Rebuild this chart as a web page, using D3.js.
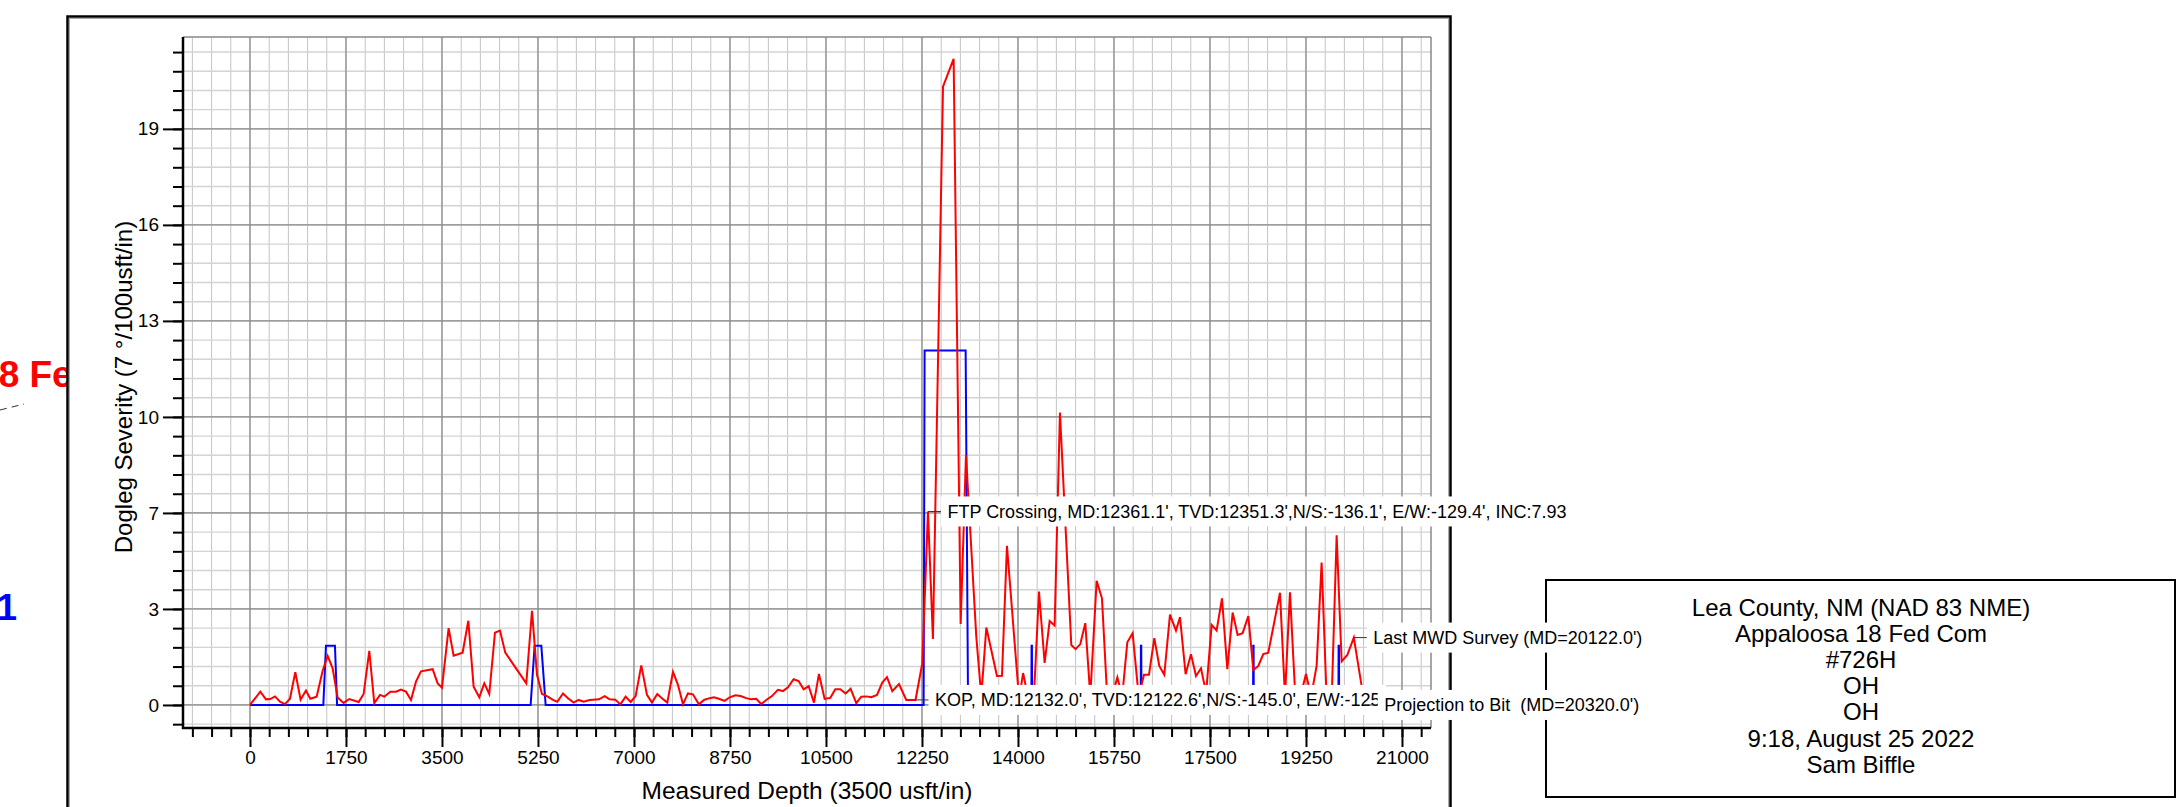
<!DOCTYPE html>
<html><head><meta charset="utf-8">
<script src="https://cdn.jsdelivr.net/npm/d3@7"></script>
<style>
body{margin:0;background:#fff;}
svg{display:block;font-family:"Liberation Sans",Arial,Helvetica,sans-serif;}
</style>
</head><body>
<svg id="chart" width="2178" height="807"></svg>
<script>
// ---- data ----
const surveyMD = [0,188,292,370,456,547,638,729,826,923,1020,1100,1215,1325,1416,1507,1598,1707,1810,1981,2072,2175,2266,2370,2449,2558,2661,2752,2844,2935,3026,3117,3330,3421,3500,3621,3712,3876,3980,4077,4180,4271,4362,4466,4557,4654,5037,5141,5232,5323,5414,5523,5602,5706,5797,5900,5991,6082,6191,6362,6465,6556,6660,6751,6848,6939,7030,7133,7237,7328,7425,7510,7607,7711,7802,7893,7984,8075,8184,8276,8379,8458,8561,8652,8744,8847,8944,9047,9138,9229,9320,9411,9515,9624,9715,9807,9910,10001,10093,10184,10281,10372,10475,10579,10670,10761,10858,10949,11052,11143,11234,11325,11430,11527,11612,11709,11831,11964,12132,12256,12359,12450,12633,12827,12955,13052,13240,13331,13423,13617,13708,13799,14020,14093,14190,14290,14383,14486,14577,14668,14765,14972,15051,15136,15227,15318,15434,15531,15628,15720,15811,15900,15993,16090,16200,16297,16388,16485,16576,16667,16771,16880,16953,17056,17153,17245,17336,17430,17530,17621,17719,17816,17913,18004,18095,18199,18290,18381,18472,18563,18776,18867,18958,19055,19150,19250,19345,19444,19535,19625,19720,19809,19900,20003,20122,20320];
const surveyDLS = [0,0.45,0.19,0.20,0.29,0.11,0.03,0.21,1.11,0.18,0.49,0.21,0.28,1.16,1.66,1.24,0.25,0.07,0.20,0.10,0.37,1.83,0.06,0.34,0.28,0.45,0.45,0.52,0.45,0.17,0.79,1.14,1.21,0.73,0.59,2.60,1.67,1.77,2.85,0.62,0.26,0.73,0.37,2.45,2.52,1.77,0.73,3.19,1.02,0.37,0.30,0.17,0.11,0.39,0.23,0.08,0.17,0.11,0.17,0.19,0.30,0.19,0.18,0.02,0.28,0.10,0.30,1.34,0.34,0.08,0.37,0.23,0.08,1.12,0.68,0.02,0.39,0.36,0.02,0.17,0.23,0.26,0.20,0.14,0.26,0.33,0.30,0.23,0.19,0.21,0.03,0.17,0.30,0.51,0.47,0.60,0.87,0.81,0.53,0.64,0.08,1.05,0.21,0.24,0.53,0.53,0.39,0.55,0.06,0.28,0.29,0.26,0.34,0.76,0.94,0.47,0.71,0.17,0.17,1.41,6.55,2.23,20.93,21.87,2.74,8.46,2.31,0.30,2.62,0.98,0.99,5.39,0.20,1.08,0.20,0.25,3.84,1.42,2.84,2.69,9.90,2.03,1.89,2.06,2.77,0.30,4.20,3.61,0.20,0.30,0.93,0.30,2.12,2.43,0.30,1.02,1.02,2.26,1.32,1.02,3.06,2.52,2.97,1.04,1.72,0.98,1.24,0.40,2.71,2.52,3.61,1.21,3.13,2.37,2.43,3.01,1.18,1.32,1.72,1.77,3.80,0.30,3.81,0.30,0.30,1.05,0.30,1.32,4.82,0.30,0.30,5.74,1.47,1.69,2.28,0.0];

const planMD  = [0,1337,1385,1549,1588,5116,5189,5311,5390,12280,12298,13046,13090,14244,14248,14254,14258,16237,16241,16247,16251,18285,18289,18295,18299,19841,19845,19851,19855,20320];
const planDLS = [0,0,2,2,0,0,2,2,0,0,12,12,0,0,2,2,0,0,2,2,0,0,2,2,0,0,2,2,0,0];

const xTickValues = [0,1750,3500,5250,7000,8750,10500,12250,14000,15750,17500,19250,21000];
const xTickLabels = ["0","1750","3500","5250","7000","8750","10500","12250","14000","15750","17500","19250","21000"];
const yTickValues = [0,3.25,6.5,9.75,13,16.25,19.5];
const yTickLabels = ["0","3","7","10","13","16","19"];

const xTitle = "Measured Depth (3500 usft/in)";
const yTitle = "Dogleg Severity (7 °/100usft/in)";

const annoText = [
  "KOP, MD:12132.0', TVD:12122.6',N/S:-145.0', E/W:-125",
  "FTP Crossing, MD:12361.1', TVD:12351.3',N/S:-136.1', E/W:-129.4', INC:7.93",
  "Last MWD Survey (MD=20122.0')",
  "Projection to Bit  (MD=20320.0')"
];
const annoMD  = [12132, 12359, 20122, 20320];
const annoDLS = [0.17, 6.55, 2.28, 0.0];

const titleLines = ["Lea County, NM (NAD 83 NME)","Appaloosa 18 Fed Com","#726H","OH","OH","9:18, August 25 2022","Sam Biffle"];
const wellName = "Appaloosa 18 Fed Com #726H";
const planName = "Plan #1";

// ---- drawing ----
const svg = d3.select("#chart");
const x = d3.scaleLinear().domain([-1221, 21529]).range([183, 1431]);
const y = d3.scaleLinear().domain([-0.78, 22.61]).range([728, 37]);
const [x0, x1] = x.range();
const [y0, y1] = y.range();

const defs = svg.append("defs");
defs.append("clipPath").attr("id","leftClip").append("rect").attr("x",0).attr("y",0).attr("width",67).attr("height",807);

// left cut-off texts
const wn = svg.append("g").attr("clip-path","url(#leftClip)");
const wt = wn.append("text").attr("y",387).attr("fill","#ff0000")
  .style("font-weight","bold").style("font-size","37px").text(wellName);
const pre = wt.node().getSubStringLength(0, wellName.indexOf("Fed"));
wt.attr("x", 29.5 - pre);
wn.append("line").attr("x1",0).attr("y1",410).attr("x2",24).attr("y2",404)
  .attr("stroke","#333").attr("stroke-width",1).attr("stroke-dasharray","7 5");
svg.append("text").attr("x",17).attr("y",620).attr("text-anchor","end").attr("fill","#0000ff")
  .style("font-weight","bold").style("font-size","37px").text(planName);

// outer frame
svg.append("rect").attr("x",69.5).attr("y",18.5).attr("width",1379).attr("height",820)
  .attr("fill","none").attr("stroke","#aaa").attr("stroke-width",1);
svg.append("rect").attr("x",67.5).attr("y",16.5).attr("width",1383).attr("height",820)
  .attr("fill","none").attr("stroke","#000").attr("stroke-width",2.5);

// title box
svg.append("rect").attr("x",1546).attr("y",580).attr("width",629).attr("height",217)
  .attr("fill","#fff").attr("stroke","#000").attr("stroke-width",2);
svg.append("g").selectAll("text").data(titleLines).join("text")
  .attr("x",1861).attr("y",(d,i)=>616 + i*26.1).attr("text-anchor","middle")
  .style("font-size","24px").attr("fill","#000").text(d=>d);

// grid
const grid = svg.append("g");
const minorX = d3.range(-3, 62).map(i=>i*350).filter(v=>v>x.domain()[0] && v<x.domain()[1]);
const minorY = d3.range(-1, 35).map(i=>i*0.65).filter(v=>v>y.domain()[0] && v<y.domain()[1]);
grid.selectAll(".mx").data(minorX).join("line")
  .attr("x1",d=>x(d)).attr("x2",d=>x(d)).attr("y1",y1).attr("y2",y0)
  .attr("stroke","#c4c4c4").attr("stroke-width",1);
grid.selectAll(".my").data(minorY).join("line")
  .attr("x1",x0).attr("x2",x1).attr("y1",d=>y(d)).attr("y2",d=>y(d))
  .attr("stroke","#d3d3d3").attr("stroke-width",1.4);
grid.selectAll(".Mx").data(xTickValues).join("line")
  .attr("x1",d=>x(d)).attr("x2",d=>x(d)).attr("y1",y1).attr("y2",y0)
  .attr("stroke","#888").attr("stroke-width",1.2);
grid.selectAll(".My").data(yTickValues).join("line")
  .attr("x1",x0).attr("x2",x1).attr("y1",d=>y(d)).attr("y2",d=>y(d))
  .attr("stroke","#888").attr("stroke-width",1.2);
// top & right plot border
grid.append("line").attr("x1",x0).attr("x2",x1).attr("y1",y1).attr("y2",y1).attr("stroke","#888").attr("stroke-width",1.5);
grid.append("line").attr("x1",x1).attr("x2",x1).attr("y1",y1).attr("y2",y0).attr("stroke","#888").attr("stroke-width",1.5);

// axes
const xMinorAxis = d3.axisBottom(x).tickValues(minorX).tickSize(9).tickFormat("");
const xMajorAxis = d3.axisBottom(x).tickValues(xTickValues).tickSize(19).tickPadding(6)
  .tickFormat((d,i)=>xTickLabels[i]);
const yMinorAxis = d3.axisLeft(y).tickValues(minorY).tickSize(10).tickFormat("");
const yMajorAxis = d3.axisLeft(y).tickValues(yTickValues).tickSize(20).tickPadding(4)
  .tickFormat((d,i)=>yTickLabels[i]);

function styleAxis(g){
  g.select(".domain").remove();
  g.selectAll(".tick line").attr("stroke","#000").attr("stroke-width",2);
  g.selectAll(".tick text").attr("fill","#000").style("font-size","19px")
   .style("font-family",'"Liberation Sans",Arial,sans-serif');
}
svg.append("g").attr("transform",`translate(0,${y0})`).call(xMinorAxis).call(styleAxis);
svg.append("g").attr("transform",`translate(0,${y0})`).call(xMajorAxis).call(styleAxis)
  .selectAll(".tick text").attr("dy","0.6em");
svg.append("g").attr("transform",`translate(${x0},0)`).call(yMinorAxis).call(styleAxis);
svg.append("g").attr("transform",`translate(${x0},0)`).call(yMajorAxis).call(styleAxis);
// axis lines
svg.append("line").attr("x1",x0).attr("x2",x0).attr("y1",y1).attr("y2",y0+1).attr("stroke","#000").attr("stroke-width",2.5);
svg.append("line").attr("x1",x0-1).attr("x2",x1).attr("y1",y0).attr("y2",y0).attr("stroke","#000").attr("stroke-width",2.5);

// axis titles
svg.append("text").attr("x",(x0+x1)/2).attr("y",799).attr("text-anchor","middle")
  .style("font-size","24.5px").attr("fill","#000").text(xTitle);
svg.append("text").attr("transform","translate(132,387) rotate(-90)").attr("text-anchor","middle")
  .style("font-size","24px").attr("fill","#000").text(yTitle);

// series
const line = d3.line().x(d=>x(d[0])).y(d=>y(d[1]));
svg.append("path").datum(planMD.map((m,i)=>[m,planDLS[i]])).attr("d",line)
  .attr("fill","none").attr("stroke","#0000ff").attr("stroke-width",2).attr("stroke-linejoin","miter");
svg.append("path").datum(surveyMD.map((m,i)=>[m,surveyDLS[i]])).attr("d",line)
  .attr("fill","none").attr("stroke","#ff0000").attr("stroke-width",2).attr("stroke-linejoin","miter");

// annotations
annoText.forEach((txt,i)=>{
  const px = x(annoMD[i]), py = y(annoDLS[i]);
  const g = svg.append("g");
  const r = g.append("rect").attr("x",px+13).attr("y",py-15).attr("height",30).attr("fill","#fff");
  g.append("line").attr("x1",px).attr("x2",px+13).attr("y1",py).attr("y2",py)
    .attr("stroke","#333").attr("stroke-width",1);
  const t = g.append("text").attr("x",px+19.5).attr("y",py).attr("dy","0.36em")
    .style("font-size","18px").style("white-space","pre").attr("fill","#000").text(txt);
  r.attr("width", t.node().getComputedTextLength()+12);
});
</script>
</body></html>
